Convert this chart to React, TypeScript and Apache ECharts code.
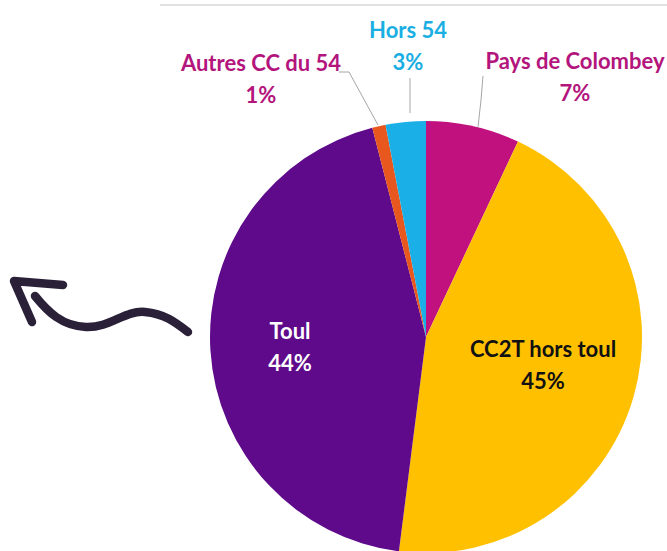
import React, { useEffect, useRef } from "react";
import * as echarts from "echarts";

const categories = ["Pays de Colombey", "CC2T hors toul", "Toul", "Autres CC du 54", "Hors 54"];
const values = [7, 45, 44, 1, 3];
const sliceColors = ["#C0117F", "#FFC000", "#5E0A8A", "#E8581E", "#1AAFE6"];
const labelColors = ["#B3157C", "#111111", "#FFFFFF", "#B3157C", "#1AAEE2"];
const showLeader = [true, false, false, true, true];

const labelPos: [number, number][] = [
  [575, 76],
  [543, 364],
  [290, 346],
  [261, 78],
  [408, 45],
];
const leaderPts: number[][][] = [
  [[478, 127], [481, 100], [483, 76]],
  [],
  [],
  [[378, 125], [349, 72], [339, 72]],
  [[410, 113], [410, 96], [410, 78]],
];

const arrowPath =
  "M35 296 C 48 312, 62 326, 86 327 S 125 310, 145 312 S 175 322, 188 332 M63 285 L14 281 L32 322";

let registered = false;

export default function App() {
  const ref = useRef<HTMLDivElement>(null);
  useEffect(() => {
    if (!ref.current) return;
    if (!registered) {
      echarts.graphic.registerShape("arrowsq", echarts.graphic.extendPath(arrowPath, {}) as any);
      registered = true;
    }
    const chart = echarts.init(ref.current, null, { renderer: "svg" });
    const font = "Lato, 'Open Sans', sans-serif";
    chart.setOption({
      animation: false,
      backgroundColor: "#ffffff",
      graphic: [
        {
          type: "line",
          shape: { x1: 160, y1: 5, x2: 667, y2: 5 },
          style: { stroke: "#d9d9d9", lineWidth: 1.5 },
        },
        {
          type: "arrowsq",
          x: 0,
          y: 0,
          style: {
            fill: null,
            stroke: "#2A2139",
            lineWidth: 8.5,
            lineCap: "round",
            lineJoin: "round",
          },
        },
      ],
      series: [
        {
          type: "pie",
          center: [426, 337],
          radius: 216,
          startAngle: 90,
          clockwise: true,
          avoidLabelOverlap: false,
          label: {
            show: true,
            position: "outside",
            formatter: "{b}\n{d}%",
            fontFamily: font,
            fontWeight: "bold",
            fontSize: 22,
            lineHeight: 32,
            align: "center",
          },
          labelLine: {
            show: true,
            lineStyle: { color: "#a6a6a6", width: 1 },
          },
          labelLayout: (p: any) => {
            const i = p.dataIndex;
            return {
              x: labelPos[i][0],
              y: labelPos[i][1],
              align: "center",
              verticalAlign: "middle",
              labelLinePoints: showLeader[i] ? leaderPts[i] : undefined,
            };
          },
          data: categories.map((name, i) => ({
            name,
            value: values[i],
            itemStyle: { color: sliceColors[i] },
            label: { color: labelColors[i] },
            labelLine: { show: showLeader[i] },
          })),
        },
      ],
    });
    return () => chart.dispose();
  }, []);
  return (
    <div
      ref={ref}
      style={{ position: "fixed", left: 0, top: 0, width: 667, height: 551 }}
    />
  );
}
